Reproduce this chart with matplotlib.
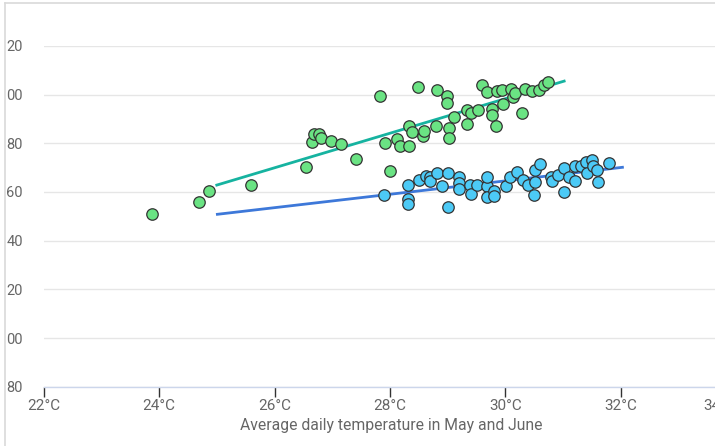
import numpy as np
import matplotlib
matplotlib.use('Agg')
import matplotlib.pyplot as plt
from matplotlib.lines import Line2D

# ====================================================
# data (temperature in C, consumption)
green_t = [23.88, 24.69, 24.86, 25.59, 26.55, 26.65, 26.68, 26.77, 26.81, 26.98,
	27.15, 27.41, 27.83, 28.00, 27.91, 28.12, 28.18, 28.33, 28.33, 28.38,
	28.49, 28.57, 28.59, 28.82, 28.99, 28.99, 28.80, 29.02, 29.02, 29.11,
	29.33, 29.40, 29.33, 29.52, 29.59, 29.68, 29.85, 29.94, 30.10, 30.13,
	30.17, 30.34, 30.46, 30.58, 30.67, 30.74, 29.77, 29.77, 29.84, 29.96, 30.29]
green_v = [350.9, 355.9, 360.4, 362.8, 370.2, 380.5, 383.8, 383.8, 382.2, 381.0,
	379.7, 373.6, 399.4, 368.6, 380.1, 381.7, 378.8, 378.8, 387.1, 384.6,
	403.1, 383.0, 385.1, 401.8, 399.4, 396.5, 387.1, 386.3, 382.2, 390.8,
	393.6, 392.4, 387.9, 393.6, 403.9, 401.0, 401.4, 401.8, 402.2, 398.9,
	400.6, 402.2, 401.4, 401.8, 403.9, 405.1, 394.0, 391.6, 387.1, 396.1, 392.4]

blue_t = [27.90, 28.31, 28.31, 28.31, 28.51, 28.62, 28.70, 28.70, 28.82, 28.90,
	29.01, 29.01, 29.20, 29.20, 29.20, 29.39, 29.40, 29.51, 29.68, 29.69,
	29.69, 29.81, 29.81, 30.01, 30.09, 30.20, 30.30, 30.40, 30.51, 30.60,
	30.51, 30.50, 30.80, 30.81, 30.91, 31.01, 31.01, 31.10, 31.21, 31.21,
	31.32, 31.40, 31.41, 31.51, 31.52, 31.59, 31.60, 31.79]
blue_v = [358.7, 362.8, 357.1, 355.0, 364.9, 366.7, 366.3, 364.3, 367.9, 362.4,
	367.6, 353.7, 366.1, 363.6, 361.2, 362.8, 359.3, 362.8, 362.4, 366.0,
	358.1, 360.4, 358.3, 362.5, 366.1, 368.0, 364.9, 362.8, 369.1, 371.4,
	363.9, 358.7, 366.2, 364.6, 366.9, 369.7, 360.1, 366.0, 364.3, 370.6,
	370.6, 372.4, 367.8, 373.0, 370.6, 369.0, 364.0, 371.7]

green_fit_t = [25.0, 31.02]
green_fit_v = [362.8, 405.5]
blue_fit_t = [25.01, 32.03]
blue_fit_v = [350.8, 370.1]

x_ticks = [22, 24, 26, 28, 30, 32, 34]
y_ticks = [280, 300, 320, 340, 360, 380, 400, 420]
x_title = 'Average daily temperature in May and June'

# ====================================================
def main():
	plt.rcParams['font.family'] = ['Roboto', 'DejaVu Sans']
	fig = plt.figure(figsize=(7.15, 4.46), dpi=100)
	W, H = 715.0, 446.0
	left = 43.7 / W
	bottom = (H - 386.7) / H
	top = (H - 45.8) / H
	right = 739.0 / W
	ax = fig.add_axes([left, bottom, right - left, top - bottom])

	ax.plot(green_fit_t, green_fit_v, color='#16b3a0', lw=2, zorder=2)
	ax.plot(blue_fit_t, blue_fit_v, color='#3d78d9', lw=2, zorder=2)
	ax.scatter(green_t, green_v, s=68, color='#6ae383', edgecolors='#333333',
		linewidths=0.9, zorder=3)
	ax.scatter(blue_t, blue_v, s=68, color='#4ccaf6', edgecolors='#333333',
		linewidths=0.9, zorder=4)

	ax.set_xlim(22, 22 + (739.0 - 43.7) / 57.7)
	ax.set_ylim(280, 420)

	for s in ['top', 'right', 'left']:
		ax.spines[s].set_visible(False)
	ax.spines['bottom'].set_color('#ccd6eb')
	ax.spines['bottom'].set_linewidth(1)

	ax.set_yticks(y_ticks)
	# labels are clipped at the left edge of the screenshot
	ax.set_yticklabels([str(v)[1:] for v in y_ticks])
	ax.tick_params(axis='y', length=0, pad=27, labelsize=10.5, labelcolor='#666666')
	for lab in ax.get_yticklabels():
		lab.set_ha('left')
	ax.grid(axis='y', color='#e6e6e6', lw=1)
	ax.set_axisbelow(True)

	ax.set_xticks(x_ticks)
	ax.set_xticklabels([str(t) + '°C' for t in x_ticks])
	ax.tick_params(axis='x', length=7.2, width=1, color='#333333', pad=2,
		labelsize=11, labelcolor='#666666')
	ax.get_xticklabels()[-1].set_ha('right')

	ax.set_xlabel(x_title, fontsize=11.3, color='#666666', labelpad=3)

	# frame of the screenshot
	fig.add_artist(Line2D([5.0 / W, 5.0 / W], [0, 1 - 3.0 / H], color='#d9d9d9', lw=1.2))
	fig.add_artist(Line2D([5.0 / W, 1], [1 - 3.0 / H, 1 - 3.0 / H], color='#d9d9d9', lw=1.2))

	fig.savefig('out.png', dpi=100)

# ====================================================
if __name__ == "__main__":
	main()
